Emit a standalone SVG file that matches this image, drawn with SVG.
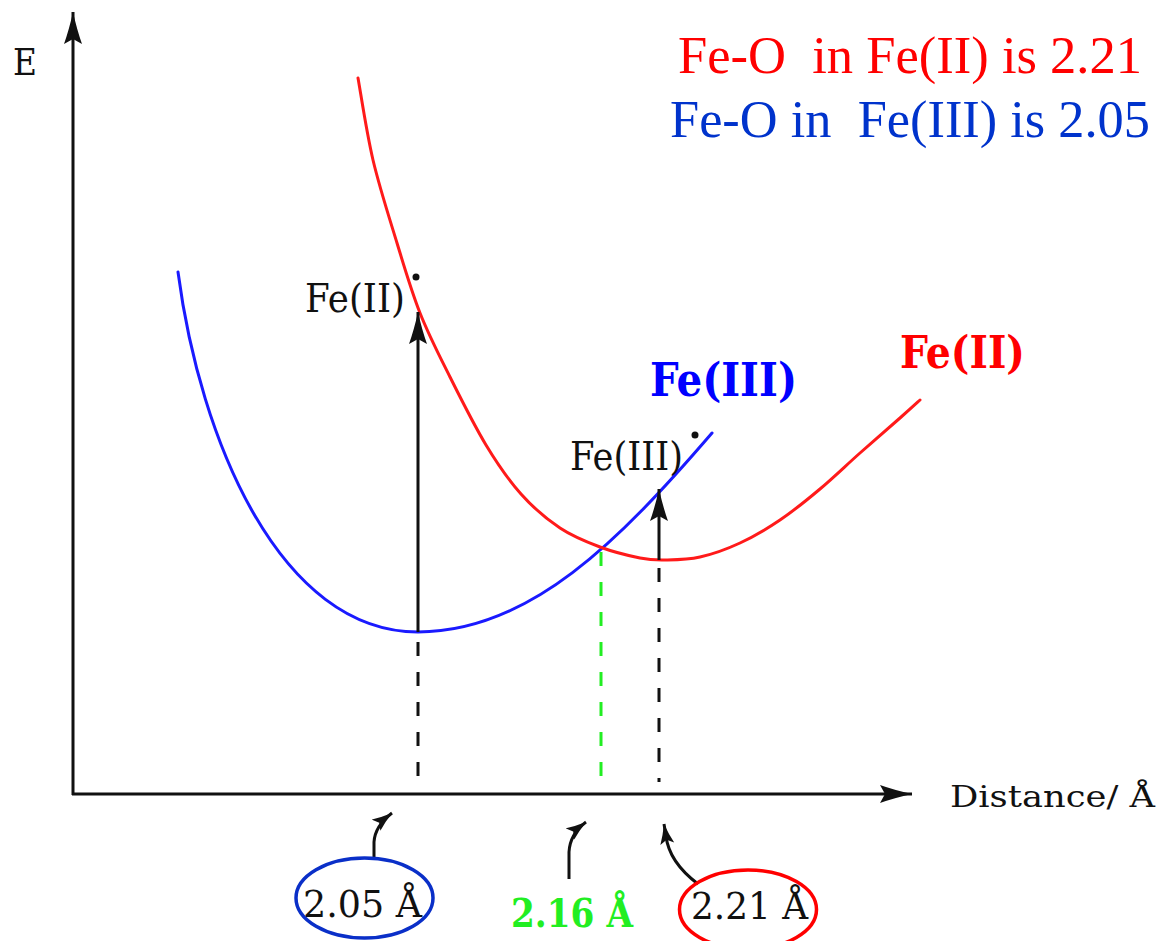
<svg xmlns="http://www.w3.org/2000/svg" width="1157" height="941" viewBox="0 0 1157 941">
<style>
.lbl{font-family:"DejaVu Serif","Liberation Serif",serif;fill:#111}
.big{font-family:"Liberation Serif","Times New Roman",serif;font-size:52px}
.bold{font-family:"DejaVu Serif","Liberation Serif",serif;font-weight:bold}
.ax{stroke:#111;stroke-width:3;fill:none}
.dash{stroke-width:3;stroke-dasharray:14 16;fill:none}
.crv{fill:none;stroke-width:3;stroke-linejoin:round;stroke-linecap:round}
</style>
<defs>
<marker id="ah" markerUnits="userSpaceOnUse" markerWidth="34" markerHeight="20" refX="32" refY="9" orient="auto">
<path d="M0,0 Q14,5 32,9 Q14,13 0,18 L5,9 Z" fill="#111"/>
</marker>
<marker id="ahs" markerUnits="userSpaceOnUse" markerWidth="22" markerHeight="16" refX="20" refY="7" orient="auto">
<path d="M0,0 Q9,4 20,7 Q9,10 0,14 L4,7 Z" fill="#111"/>
</marker>
</defs>
<rect width="1157" height="941" fill="#fff"/>

<g id="axes">
<line class="ax" x1="73" y1="795" x2="73" y2="12" marker-end="url(#ah)"/>
<line class="ax" x1="72" y1="794" x2="912" y2="794" marker-end="url(#ah)"/>
<text class="lbl" x="13" y="75" font-size="38" textLength="24" lengthAdjust="spacingAndGlyphs">E</text>
<text class="lbl" x="950" y="807" font-size="30" textLength="205" lengthAdjust="spacingAndGlyphs" xml:space="preserve">Distance/ Å</text>
</g>

<g id="curve-fe3">
<path class="crv" stroke="#1a1aff" d="M178,272 C200,440 280,632 418,632 C530,632 620,540 712,433"/>
</g>
<g id="curve-fe2">
<path class="crv" stroke="#ff1a1a" stroke-width="2.5" d="M358,78 C360.5,91.7 366.5,132.5 373,160 C379.5,187.5 389.2,217.5 397,243 C404.8,268.5 411.2,290.7 420,313 C428.8,335.3 439,355 450,377 C461,399 474.2,425.5 486,445 C497.8,464.5 508.7,480.2 521,494 C533.3,507.8 546.8,519.2 560,528 C573.2,536.8 586.7,542 600,547 C613.3,552 629.2,555.8 640,558 C650.8,560.2 655,560.2 665,560 C675,559.8 687.5,559.8 700,557 C712.5,554.2 726.7,549.2 740,543 C753.3,536.8 766.7,529 780,520 C793.3,511 806.7,500.2 820,489 C833.3,477.8 846.7,464.8 860,453 C873.3,441.2 890,426.8 900,418 C910,409.2 916.7,403 920,400"/>
</g>

<g id="connectors">
<line class="ax" x1="418" y1="632" x2="418" y2="312" marker-end="url(#ah)"/>
<line class="ax" x1="659" y1="560" x2="659" y2="489" marker-end="url(#ah)"/>
<line class="dash" stroke="#111" x1="418" y1="642" x2="418" y2="790"/>
<line class="dash" stroke="#22ee22" x1="601" y1="552" x2="601" y2="782"/>
<line class="dash" stroke="#111" x1="659" y1="568" x2="659" y2="782"/>
<path class="ax" stroke-width="2.5" d="M374,857 L374,842 Q375,826 392,813" marker-end="url(#ahs)"/>
<path class="ax" stroke-width="2.5" d="M569,879 L569,852 Q570,834 586,822" marker-end="url(#ahs)"/>
<path class="ax" stroke-width="2.5" d="M698,884 Q669,862 666,836 L664,824" marker-end="url(#ahs)"/>
</g>

<g id="label-fe2-star">
<text class="lbl" x="305" y="312" font-size="39" textLength="100" lengthAdjust="spacingAndGlyphs">Fe(II)</text>
<circle cx="416" cy="277" r="3.5" fill="#111"/>
</g>
<g id="label-fe3-star">
<text class="lbl" x="570" y="470" font-size="39" textLength="113" lengthAdjust="spacingAndGlyphs">Fe(III)</text>
<circle cx="695" cy="435" r="3.5" fill="#111"/>
</g>
<g id="label-fe3">
<text class="bold" x="650" y="396" font-size="46" fill="#0000ff" textLength="147" lengthAdjust="spacingAndGlyphs">Fe(III)</text>
</g>
<g id="label-fe2">
<text class="bold" x="900" y="368" font-size="44" fill="#ff0000" textLength="125" lengthAdjust="spacingAndGlyphs">Fe(II)</text>
</g>

<g id="legend">
<text class="big" x="678" y="73" fill="#ff0000" textLength="464" lengthAdjust="spacingAndGlyphs" xml:space="preserve">Fe-O  in Fe(II) is 2.21</text>
<text class="big" x="670" y="137" fill="#0033cc" textLength="480" lengthAdjust="spacingAndGlyphs" xml:space="preserve">Fe-O in  Fe(III) is 2.05</text>
</g>

<g id="tick-205">
<text class="lbl" x="303" y="917" font-size="38" textLength="119" lengthAdjust="spacingAndGlyphs" xml:space="preserve">2.05 Å</text>
<ellipse cx="364.5" cy="898" rx="68.5" ry="40" fill="none" stroke="#0a2fc8" stroke-width="3.5"/>
</g>
<g id="tick-216">
<text class="bold" x="511" y="927" font-size="40" fill="#22ee22" textLength="122" lengthAdjust="spacingAndGlyphs" xml:space="preserve">2.16 Å</text>
</g>
<g id="tick-221">
<text class="lbl" x="691" y="919" font-size="38" textLength="117" lengthAdjust="spacingAndGlyphs" xml:space="preserve">2.21 Å</text>
<ellipse cx="748" cy="909.5" rx="68.5" ry="39.5" fill="none" stroke="#ff0000" stroke-width="3.5"/>
</g>
</svg>
